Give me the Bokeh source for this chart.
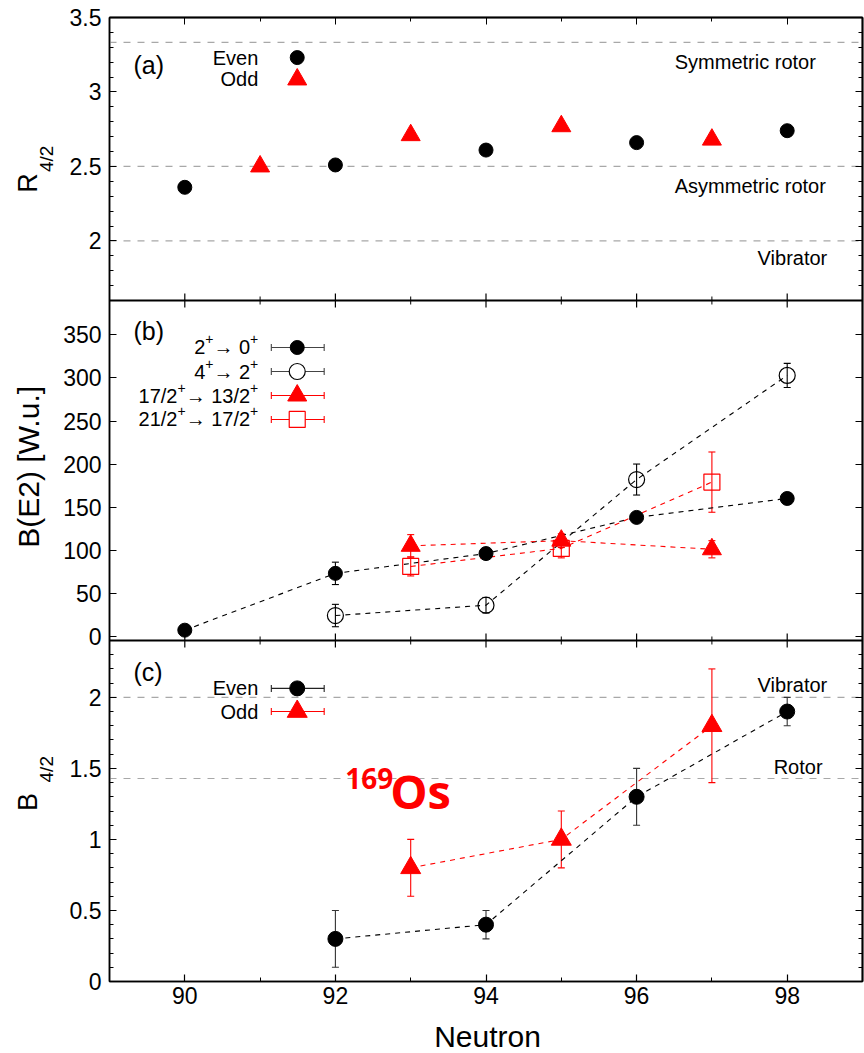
import math

from bokeh.plotting import figure
from bokeh.layouts import row, column
from bokeh.models import (ColumnDataSource, Whisker, TeeHead, Span, Label, FixedTicker,
                          Range1d, LinearAxis, NumeralTickFormatter)
from bokeh.embed import file_html
from bokeh.resources import INLINE

# ---------------------------------------------------------------- data
# (a) energy ratio R4/2
r42_n_even = [90, 92, 94, 96, 98]
r42_even = [2.36, 2.51, 2.61, 2.66, 2.74]
r42_n_odd = [91, 93, 95, 97]
r42_odd = [2.50, 2.71, 2.77, 2.68]
r42_limits = [10 / 3, 2.5, 2.0]

# (b) B(E2) values in W.u.
be2_n_20 = [90, 92, 94, 96, 98]
be2_20 = [7, 73, 96, 138, 160]
be2_20_err = [2, 13, 5, 6, 5]
be2_n_42 = [92, 94, 96, 98]
be2_42 = [24, 36, 182, 303]
be2_42_err = [13, 9, 18, 14]
be2_n_odd = [93, 95, 97]
be2_17 = [105, 111, 101]
be2_17_err = [13, 8, 10]
be2_21 = [81, 102, 179]
be2_21_err = [11, 11, 35]

# (c) B(E2) ratio B4/2
b42_n_even = [92, 94, 96, 98]
b42_even = [0.3, 0.4, 1.3, 1.9]
b42_even_err = [0.2, 0.1, 0.2, 0.1]
b42_n_odd = [93, 95, 97]
b42_odd = [0.8, 1.0, 1.8]
b42_odd_err = [0.2, 0.2, 0.4]
b42_limits = [2.0, 10 / 7]

# axis ticks
x_major = [90, 92, 94, 96, 98]
x_minor = [89, 91, 93, 95, 97, 99]
a_lim, a_major = (1.6, 3.5), [2, 2.5, 3, 3.5]
b_lim, b_major = (-5, 390), [0, 50, 100, 150, 200, 250, 300, 350]
c_lim, c_major = (0, 2.4), [0, 0.5, 1, 1.5, 2]
a_minor = [round(1.6 + 0.1 * i, 1) for i in range(19)]
c_minor = [round(0.1 * i, 1) for i in range(25)]

# ---------------------------------------------------------------- style
FONT = "Liberation Sans"
RED = "#ff0000"
BLACK = "#000000"
REF = "#a8a8a8"
DASH = "5 5"

PAGE_W, PAGE_H = 864, 1053
STRIP_W = 60          # column holding the rotated y titles
TOP = 17
FRAME_H = 964
TICK_LABELS_H = 36    # room under the frame for the x tick labels
MAIN_H = TOP + FRAME_H + TICK_LABELS_H
# vertical extent of each panel inside the frame, pixels from the frame bottom
EXT_A = (681, 964)
EXT_B = (341, 681)
EXT_C = (0, 341)


def panel_range(lim, ext):
    k = (ext[1] - ext[0]) / (lim[1] - lim[0])
    return Range1d(lim[0] - ext[0] / k, lim[1] + (FRAME_H - ext[1]) / k), k


def to_px(v, lim, k, ext):
    return round(ext[0] + (v - lim[0]) * k, 3)


rng_a, k_a = panel_range(a_lim, EXT_A)
rng_b, k_b = panel_range(b_lim, EXT_B)
rng_c, k_c = panel_range(c_lim, EXT_C)

# left-axis ticks of all three panels on the common pixel scale
major_px, minor_px, overrides = [], [], {}
for lim, k, ext, majors, minors in [(a_lim, k_a, EXT_A, a_major, a_minor),
                                     (b_lim, k_b, EXT_B, b_major, []),
                                     (c_lim, k_c, EXT_C, c_major, c_minor)]:
    for v in majors:
        px = to_px(v, lim, k, ext)
        major_px.append(px)
        overrides[px] = f"{v:g}"
    for v in minors:
        if v not in majors:
            minor_px.append(to_px(v, lim, k, ext))

p = figure(width=PAGE_W - STRIP_W, height=MAIN_H, x_range=Range1d(89, 99),
           y_range=Range1d(0, FRAME_H), x_axis_location=None, y_axis_location=None,
           output_backend="svg", toolbar_location=None,
           min_border_left=108 - STRIP_W, min_border_right=2,
           min_border_top=TOP, min_border_bottom=TICK_LABELS_H)
p.extra_y_ranges = {"a": rng_a, "b": rng_b, "c": rng_c}
p.grid.visible = False
p.outline_line_color = "black"
p.outline_line_width = 1.5
p.background_fill_color = "white"
p.border_fill_color = "white"

AX = dict(axis_line_color="black", axis_line_width=1.5,
          major_tick_out=0, minor_tick_out=0,
          major_tick_line_color="black", minor_tick_line_color="black",
          major_tick_line_width=1.2, minor_tick_line_width=1.0,
          major_label_text_font=FONT, major_label_text_color="black",
          major_label_text_font_size="23px")


def tick_only_axis(ticks, length):
    # unlabelled mirror ticks
    return LinearAxis(ticker=FixedTicker(ticks=[], minor_ticks=ticks),
                      minor_tick_in=length, major_tick_in=0, major_label_standoff=0, **AX)


left = LinearAxis(ticker=FixedTicker(ticks=major_px, minor_ticks=minor_px),
                  major_label_overrides=overrides, major_tick_in=7, minor_tick_in=4,
                  major_label_standoff=8, **AX)
p.add_layout(left, "left")
p.add_layout(tick_only_axis(major_px, 7), "right")
p.add_layout(tick_only_axis(minor_px, 4), "right")

bottom = LinearAxis(ticker=FixedTicker(ticks=x_major, minor_ticks=x_minor),
                    formatter=NumeralTickFormatter(format="0"),
                    major_tick_in=7, minor_tick_in=4, major_label_standoff=5, **AX)
p.add_layout(bottom, "below")
p.add_layout(tick_only_axis(x_major, 7), "above")
p.add_layout(tick_only_axis(x_minor, 4), "above")

# panel separators with their x ticks on both sides
for sep in (EXT_B[0], EXT_A[0]):
    p.add_layout(Span(location=sep, dimension="width", line_color="black", line_width=1.8))
    p.segment(x0=x_major, y0=[sep - 7] * len(x_major), x1=x_major, y1=[sep + 7] * len(x_major),
              line_color="black", line_width=1.2)
    p.segment(x0=x_minor, y0=[sep - 4] * len(x_minor), x1=x_minor, y1=[sep + 4] * len(x_minor),
              line_color="black", line_width=1.0)


# ---------------------------------------------------------------- helpers
def text(x, y, s, rng, size="20px", align="left", color="black",
         font=FONT, style="normal", dx=0, dy=0):
    p.add_layout(Label(x=x, y=y, text=s, text_font=font, text_font_size=size,
                       text_align=align, text_baseline="middle", text_color=color,
                       text_font_style=style, y_range_name=rng, x_offset=dx, y_offset=dy))


# Helvetica/Arial advance widths (em) for the characters used in the key labels
ADV = {"0": .556, "1": .556, "2": .556, "3": .556, "4": .556, "7": .556,
       "/": .278, " ": .278, "+": .584, "\u2192": 1.0}


def rich_text(x, y, pieces, rng, size=20, sup=14):
    widths = [sum(ADV[c] for c in s) * (sup if up else size) for s, up in pieces]
    off = -sum(widths)
    for (s, up), w in zip(pieces, widths):
        text(x, y, s, rng, size=f"{sup if up else size}px", dx=off, dy=8 if up else 0)
        off += w


def ref_line(y, rng):
    p.add_layout(Span(location=y, dimension="width", line_color=REF, level="underlay",
                      line_dash="7 7", line_width=1.2, y_range_name=rng))


def whisker(base, lo, hi, color, rng, dim="height"):
    src = ColumnDataSource(dict(base=base, lo=lo, hi=hi))
    p.add_layout(Whisker(source=src, base="base", lower="lo", upper="hi",
                         dimension=dim, line_color=color, line_width=1.1, y_range_name=rng,
                         upper_head=TeeHead(size=7, line_color=color, line_width=1.1),
                         lower_head=TeeHead(size=7, line_color=color, line_width=1.1)))


def errorbars(xs, ys, errs, color, rng):
    whisker(xs, [v - e for v, e in zip(ys, errs)], [v + e for v, e in zip(ys, errs)],
            color, rng)


# legend key placement (neutron units)
KEY_TEXT_X = 90.976
KEY_MARK_X = 91.493
KEY_BAR = (91.149, 91.851)
TAG_X = 89.318

# ---------------------------------------------------------------- (a)
for lim in r42_limits:
    ref_line(lim, "a")
p.scatter(r42_n_even, r42_even, marker="circle", size=14, color=BLACK, y_range_name="a")
p.scatter(r42_n_odd, r42_odd, marker="triangle", size=19, color=RED, y_range_name="a")

text(TAG_X, 3.178, "(a)", "a", size="25px")
text(KEY_TEXT_X, 3.231, "Even", "a", align="right")
text(KEY_TEXT_X, 3.084, "Odd", "a", align="right")
p.scatter([KEY_MARK_X], [3.231], marker="circle", size=14, color=BLACK, y_range_name="a")
p.scatter([KEY_MARK_X], [3.084], marker="triangle", size=19, color=RED, y_range_name="a")
text(96.507, 3.198, "Symmetric rotor", "a")
text(96.507, 2.372, "Asymmetric rotor", "a")
text(97.607, 1.882, "Vibrator", "a")

# ---------------------------------------------------------------- (b)
p.line(be2_n_20, be2_20, line_color=BLACK, line_dash=DASH, line_width=1.1, y_range_name="b")
p.line(be2_n_42, be2_42, line_color=BLACK, line_dash=DASH, line_width=1.1, y_range_name="b")
p.line(be2_n_odd, be2_17, line_color=RED, line_dash=DASH, line_width=1.1, y_range_name="b")
p.line(be2_n_odd, be2_21, line_color=RED, line_dash=DASH, line_width=1.1, y_range_name="b")
errorbars(be2_n_20, be2_20, be2_20_err, BLACK, "b")
errorbars(be2_n_42, be2_42, be2_42_err, BLACK, "b")
errorbars(be2_n_odd, be2_17, be2_17_err, RED, "b")
errorbars(be2_n_odd, be2_21, be2_21_err, RED, "b")
p.scatter(be2_n_20, be2_20, marker="circle", size=14, color=BLACK, y_range_name="b")
p.scatter(be2_n_42, be2_42, marker="circle", size=16, fill_color=None,
          line_color=BLACK, line_width=1.2, y_range_name="b")
p.scatter(be2_n_odd, be2_17, marker="triangle", size=19, color=RED, y_range_name="b")
p.scatter(be2_n_odd, be2_21, marker="square", size=16, fill_color=None,
          line_color=RED, line_width=1.2, y_range_name="b")

text(TAG_X, 354.0, "(b)", "b", size="25px")
b_rows = [335.4, 307.5, 279.6, 251.8]
b_keys = [[("2", 0), ("+", 1), ("\u2192 0", 0), ("+", 1)],
          [("4", 0), ("+", 1), ("\u2192 2", 0), ("+", 1)],
          [("17/2", 0), ("+", 1), ("\u2192 13/2", 0), ("+", 1)],
          [("21/2", 0), ("+", 1), ("\u2192 17/2", 0), ("+", 1)]]
b_colors = ["#444444", "#444444", RED, RED]
for y, pieces, col in zip(b_rows, b_keys, b_colors):
    rich_text(KEY_TEXT_X, y, pieces, "b")
    whisker([y], [KEY_BAR[0]], [KEY_BAR[1]], col, "b", dim="width")
p.scatter([KEY_MARK_X], [b_rows[0]], marker="circle", size=14, color=BLACK, y_range_name="b")
p.scatter([KEY_MARK_X], [b_rows[1]], marker="circle", size=16, fill_color="white",
          line_color=BLACK, line_width=1.2, y_range_name="b")
p.scatter([KEY_MARK_X], [b_rows[2]], marker="triangle", size=19, color=RED, y_range_name="b")
p.scatter([KEY_MARK_X], [b_rows[3]], marker="square", size=16, fill_color="white",
          line_color=RED, line_width=1.2, y_range_name="b")

# ---------------------------------------------------------------- (c)
for lim in b42_limits:
    ref_line(lim, "c")
p.line(b42_n_even, b42_even, line_color=BLACK, line_dash=DASH, line_width=1.1, y_range_name="c")
p.line(b42_n_odd, b42_odd, line_color=RED, line_dash=DASH, line_width=1.1, y_range_name="c")
errorbars(b42_n_even, b42_even, b42_even_err, "#333333", "c")
errorbars(b42_n_odd, b42_odd, b42_odd_err, RED, "c")
p.scatter(b42_n_even, b42_even, marker="circle", size=15, color=BLACK, y_range_name="c")
p.scatter(b42_n_odd, b42_odd, marker="triangle", size=20, color=RED, y_range_name="c")

text(TAG_X, 2.175, "(c)", "c", size="25px")
text(KEY_TEXT_X, 2.063, "Even", "c", align="right")
text(KEY_TEXT_X, 1.900, "Odd", "c", align="right")
whisker([2.063], [KEY_BAR[0]], [KEY_BAR[1]], "#222222", "c", dim="width")
whisker([1.900], [KEY_BAR[0]], [KEY_BAR[1]], RED, "c", dim="width")
p.scatter([KEY_MARK_X], [2.063], marker="circle", size=15, color=BLACK, y_range_name="c")
p.scatter([KEY_MARK_X], [1.900], marker="triangle", size=20, color=RED, y_range_name="c")
text(97.607, 2.090, "Vibrator", "c")
text(97.820, 1.510, "Rotor", "c")
text(92.767, 1.429, "169", "c", size="28px", align="right", color=RED,
     font="Open Sans", style="bold")
text(92.727, 1.344, "Os", "c", size="47px", color=RED, font="Open Sans", style="bold")


# ---------------------------------------------------------------- titles
def blank(width, height, y_top, y_bottom):
    f = figure(width=width, height=height, x_range=Range1d(0, width),
               y_range=Range1d(y_bottom, y_top), x_axis_location=None,
               y_axis_location=None, output_backend="svg", toolbar_location=None,
               min_border=0)
    f.grid.visible = False
    f.outline_line_color = None
    f.border_fill_color = "white"
    f.background_fill_color = "white"
    return f


def title(f, x, y, s, size, align="left", angle=math.pi / 2):
    f.add_layout(Label(x=x, y=y, text=s, text_font=FONT, text_font_size=size,
                       text_align=align, text_baseline="middle",
                       angle=angle, text_color="black"))


strip = blank(STRIP_W, MAIN_H, 0, MAIN_H)
title(strip, 27.5, 185, "R", "27px")
title(strip, 45.5, 163, "4/2", "19px")
title(strip, 28, 474, "B(E2) [W.u.]", "30px", align="center")
title(strip, 27.5, 837, "B", "27px")
title(strip, 45.5, 807, "4/2", "19px")

foot = blank(PAGE_W, PAGE_H - MAIN_H, MAIN_H, PAGE_H)
title(foot, 487, 1036, "Neutron", "30px", align="center", angle=0.0)

layout = column(row(strip, p, spacing=0), foot, spacing=0)
open("out.html", "w").write(file_html(layout, INLINE))
